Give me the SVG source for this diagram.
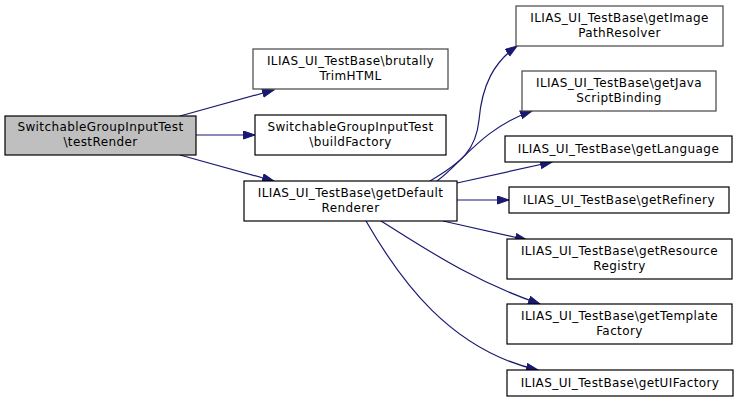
<svg xmlns="http://www.w3.org/2000/svg" width="739" height="402" viewBox="0 0 739 402">
<style>
.n rect{fill:#ffffff;stroke:#000000;stroke-width:1.2}
.n.g rect{stroke:#444444}
.n.root rect{fill:#bfbfbf;stroke:#000000}
text{font-family:"DejaVu Sans",sans-serif;font-size:12px;letter-spacing:0.4px;fill:#000000;text-anchor:middle}
.e path{fill:none;stroke:#191970;stroke-width:1.2}
</style>
<defs>
<marker id="ah" markerUnits="userSpaceOnUse" markerWidth="14" markerHeight="11" refX="12" refY="4.5" orient="auto">
<path d="M0.5,0.5 L12,4.5 L0.5,8.5 z" fill="#191970" stroke="#191970" stroke-width="1"/>
</marker>
</defs>
<rect width="739" height="402" fill="#ffffff"/>
<g id="edges" class="e">
<path d="M180,116 L274,90" marker-end="url(#ah)"/>
<path d="M196,135 L255,135" marker-end="url(#ah)"/>
<path d="M180,155 L274,181" marker-end="url(#ah)"/>
<path d="M430,181 C462,162 476,150 479,120 C482,85 494,62 517,46" marker-end="url(#ah)"/>
<path d="M437,181 C460,165 482,128 532,111" marker-end="url(#ah)"/>
<path d="M457,183 L552,162" marker-end="url(#ah)"/>
<path d="M457,200 L509,200" marker-end="url(#ah)"/>
<path d="M443,221 L527,240" marker-end="url(#ah)"/>
<path d="M381,221 C420,245 470,280 540,304" marker-end="url(#ah)"/>
<path d="M366,221 C400,280 450,350 538,370" marker-end="url(#ah)"/>
</g>
<g id="n_testRender" class="n root"><rect x="5" y="116" width="191" height="39"/><text x="100.5" y="131">SwitchableGroupInputTest</text><text x="100.5" y="146">\testRender</text></g>
<g id="n_brutallyTrimHTML" class="n g"><rect x="253" y="49" width="195" height="40"/><text x="350.5" y="65">ILIAS_UI_TestBase\brutally</text><text x="350.5" y="80">TrimHTML</text></g>
<g id="n_buildFactory" class="n"><rect x="255" y="115" width="191" height="40"/><text x="350.5" y="131">SwitchableGroupInputTest</text><text x="350.5" y="146">\buildFactory</text></g>
<g id="n_getDefaultRenderer" class="n"><rect x="244" y="181" width="213" height="40"/><text x="350.5" y="197">ILIAS_UI_TestBase\getDefault</text><text x="350.5" y="212">Renderer</text></g>
<g id="n_getImagePathResolver" class="n g"><rect x="516" y="6" width="207" height="40"/><text x="619.5" y="22">ILIAS_UI_TestBase\getImage</text><text x="619.5" y="37">PathResolver</text></g>
<g id="n_getJavaScriptBinding" class="n g"><rect x="522" y="71" width="194" height="40"/><text x="619" y="87">ILIAS_UI_TestBase\getJava</text><text x="619" y="102">ScriptBinding</text></g>
<g id="n_getLanguage" class="n"><rect x="505" y="136" width="227" height="26"/><text x="618.5" y="153">ILIAS_UI_TestBase\getLanguage</text></g>
<g id="n_getRefinery" class="n"><rect x="509" y="187" width="220" height="26"/><text x="619" y="204">ILIAS_UI_TestBase\getRefinery</text></g>
<g id="n_getResourceRegistry" class="n"><rect x="507" y="239" width="225" height="40"/><text x="619.5" y="255">ILIAS_UI_TestBase\getResource</text><text x="619.5" y="270">Registry</text></g>
<g id="n_getTemplateFactory" class="n"><rect x="507" y="304" width="225" height="40"/><text x="619.5" y="320">ILIAS_UI_TestBase\getTemplate</text><text x="619.5" y="335">Factory</text></g>
<g id="n_getUIFactory" class="n"><rect x="507" y="370" width="226" height="26"/><text x="620" y="387">ILIAS_UI_TestBase\getUIFactory</text></g>
</svg>
